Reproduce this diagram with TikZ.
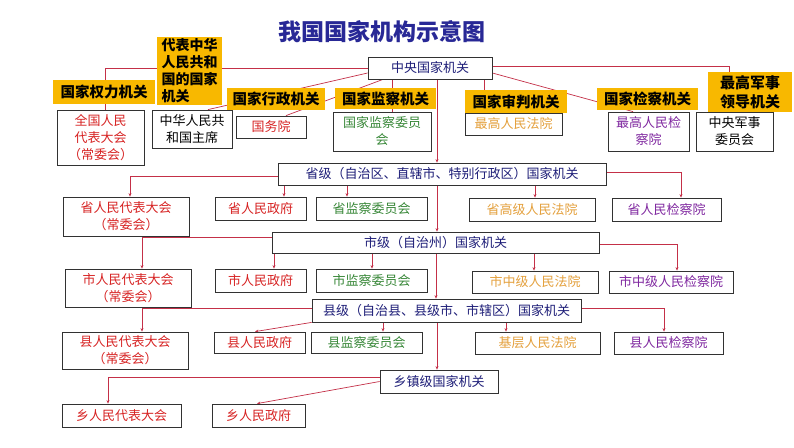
\documentclass[tikz,border=0pt]{standalone}
\usepackage{fontspec}
\setmainfont{Noto Sans CJK SC}
\usetikzlibrary{arrows.meta,backgrounds}
\definecolor{linec}{RGB}{196,48,72}
\definecolor{boxline}{RGB}{50,50,50}
\definecolor{labfill}{RGB}{248,184,0}
\definecolor{tred}{RGB}{215,35,35}
\definecolor{tgreen}{RGB}{55,135,55}
\definecolor{torange}{RGB}{228,160,60}
\definecolor{tpurple}{RGB}{128,40,160}
\definecolor{tnavy}{RGB}{30,30,120}
\definecolor{ttitle}{RGB}{40,40,150}
\tikzset{
  sz/.style 2 args={minimum width=#1pt, minimum height=#2pt},
  box/.style={draw=boxline, fill=white, line width=0.8pt, inner sep=0pt, align=center,
              font=\fontsize{13}{17}\selectfont},
  lab/.style={fill=labfill, inner sep=0pt, align=center, text=black,
              font=\bfseries\fontsize{14.5}{18}\selectfont},
  conn/.style={draw=linec, line width=0.7pt},
  arr/.style={conn, -{Stealth[length=3.5pt,width=3pt]}},
  titlestyle/.style={text=ttitle, font=\bfseries\fontsize{23}{27}\selectfont}
}
\begin{document}
\begin{tikzpicture}[x=1pt,y=-1pt]
\useasboundingbox (0,0) rectangle (794,447);
\node[titlestyle] (title) at (382,32) {我国国家机构示意图};
\node[box, text=tnavy, sz={124}{22}] (zy) at (430,68) {中央国家机关};
% row 1 boxes
\node[box, text=tred, sz={87}{55}] (B1) at (100.5,137.5) {全国人民\\代表大会\\（常委会）};
\node[box, text=black, sz={80}{38}] (B2) at (192,129) {中华人民共\\和国主席};
\node[box, text=tred, sz={70}{22}] (B3) at (271,127) {国务院};
\node[box, text=tgreen, sz={98}{39}] (B4) at (382,131.5) {国家监察委员\\会};
\node[box, text=torange, sz={97}{22}] (B5) at (513.5,124) {最高人民法院};
\node[box, text=tpurple, sz={81}{39}] (B6) at (648.5,131.5) {最高人民检\\察院};
\node[box, text=black, sz={77}{39}] (B7) at (734.5,131.5) {中央军事\\委员会};
% labels
\node[lab, sz={102}{24}] (L1) at (104,92) {国家权力机关};
\node[lab, sz={65}{68}, align=left, font=\bfseries\fontsize{14}{17}\selectfont] (L2) at (189.5,71) {代表中华\\人民共和\\国的国家\\机关};
\node[lab, sz={98}{22}] (L3) at (276,99) {国家行政机关};
\node[lab, sz={101}{21}] (L4) at (385.5,98.5) {国家监察机关};
\node[lab, sz={102}{23}] (L5) at (516,101.5) {国家审判机关};
\node[lab, sz={101}{22}] (L6) at (647.5,99) {国家检察机关};
\node[lab, sz={84}{40}, font=\bfseries\fontsize{15}{19}\selectfont] (L7) at (750,92) {最高军事\\领导机关};
% province
\node[box, text=tnavy, sz={328}{22}] (S) at (442,174) {省级（自治区、直辖市、特别行政区）国家机关};
\node[box, text=tred, sz={126}{39}] (S1) at (126,216.5) {省人民代表大会\\（常委会）};
\node[box, text=tred, sz={91}{23}] (S2) at (260.5,208.5) {省人民政府};
\node[box, text=tgreen, sz={111}{23}] (S3) at (371.5,208.5) {省监察委员会};
\node[box, text=torange, sz={126}{23}] (S4) at (532,209.5) {省高级人民法院};
\node[box, text=tpurple, sz={109}{23}] (S5) at (666.5,209.5) {省人民检察院};
% city
\node[box, text=tnavy, sz={327}{21}] (C) at (435.5,242.5) {市级（自治州）国家机关};
\node[box, text=tred, sz={126}{38}] (C1) at (128,288) {市人民代表大会\\（常委会）};
\node[box, text=tred, sz={91}{23}] (C2) at (260.5,280.5) {市人民政府};
\node[box, text=tgreen, sz={111}{23}] (C3) at (371.5,280.5) {市监察委员会};
\node[box, text=torange, sz={126}{22}] (C4) at (535,282) {市中级人民法院};
\node[box, text=tpurple, sz={124}{22}] (C5) at (671,282) {市中级人民检察院};
% county
\node[box, text=tnavy, sz={269}{23}] (X) at (446.5,310.5) {县级（自治县、县级市、市辖区）国家机关};
\node[box, text=tred, sz={126}{37}] (X1) at (125,350.5) {县人民代表大会\\（常委会）};
\node[box, text=tred, sz={91}{21}] (X2) at (259.5,342.5) {县人民政府};
\node[box, text=tgreen, sz={111}{21}] (X3) at (366.5,342.5) {县监察委员会};
\node[box, text=torange, sz={125}{22}] (X4) at (537.5,343) {基层人民法院};
\node[box, text=tpurple, sz={109}{22}] (X5) at (668.5,343) {县人民检察院};
% town
\node[box, text=tnavy, sz={118}{23}] (T) at (439,381.5) {乡镇级国家机关};
\node[box, text=tred, sz={119}{23}] (T1) at (121.5,415.5) {乡人民代表大会};
\node[box, text=tred, sz={93}{23}] (T2) at (258.5,415.5) {乡人民政府};

\begin{scope}[on background layer]
\fill[white] (0,0) rectangle (794,447);
% central
\draw[conn] (zy.west) -| ([xshift=4.5pt]B1.north);
\draw[conn] ([yshift=-5pt]zy.west) -- ([xshift=16pt]B2.north);
\draw[conn] ([xshift=-47pt]zy.south) -- ([xshift=15pt]B3.north);
\draw[conn] ([xshift=-38pt]zy.south) -- ([xshift=10pt]B4.north);
\draw[arr] ([xshift=7pt]zy.south) -- ([xshift=-5pt]S.north);
\draw[conn] ([xshift=54pt]zy.south) -- ([xshift=-29.5pt]B5.north);
\draw[conn] ([yshift=-5pt]zy.east) -- ([xshift=-15.5pt]B6.north);
\draw[conn] ([yshift=1.5pt]zy.east) -| ([xshift=-5.5pt]B7.north);
% province
\draw[arr] ([yshift=-2pt]S.west) -| ([xshift=4pt]S1.north);
\draw[arr] ([xshift=-158pt]S.south) -- ([xshift=23.5pt]S2.north);
\draw[arr] ([xshift=-95pt]S.south) -- ([xshift=-24.5pt]S3.north);
\draw[arr] ([xshift=93pt]S.south) -- ([xshift=3pt]S4.north);
\draw[arr] ([yshift=2pt]S.east) -| ([xshift=14.5pt]S5.north);
\draw[arr] ([xshift=-5pt]S.south) -- ([xshift=1.5pt]C.north);
% city
\draw[arr] ([yshift=5.5pt]C.west) -| ([xshift=14pt]C1.north);
\draw[arr] ([xshift=-161.5pt]C.south) -- ([xshift=13.5pt]C2.north);
\draw[arr] ([xshift=-63.5pt]C.south) -- ([xshift=0.5pt]C3.north);
\draw[arr] ([xshift=98.5pt]C.south) -- ([xshift=-1pt]C4.north);
\draw[arr] ([yshift=-1.5pt]C.east) -| ([xshift=6pt]C5.north);
\draw[arr] ([xshift=0.5pt]C.south) -- ([xshift=-10.5pt]X.north);
% county
\draw[arr] ([yshift=2.5pt]X.west) -| ([xshift=17pt]X1.north);
\draw[arr] (X.south west) -- ([xshift=-4.5pt]X2.north);
\draw[arr] ([xshift=-63.5pt]X.south) -- ([xshift=16.5pt]X3.north);
\draw[arr] ([xshift=59.5pt]X.south) -- ([xshift=-31.5pt]X4.north);
\draw[arr] ([yshift=2.5pt]X.east) -| ([xshift=-4.5pt]X5.north);
\draw[arr] ([xshift=-9.5pt]X.south) -- ([xshift=-2pt]T.north);
% town
\draw[arr] ([yshift=4.5pt]T.west) -| ([xshift=-13.5pt]T1.north);
\draw[arr] (T.west) -- ([xshift=-1.5pt]T2.north);
\end{scope}
\end{tikzpicture}
\end{document}
